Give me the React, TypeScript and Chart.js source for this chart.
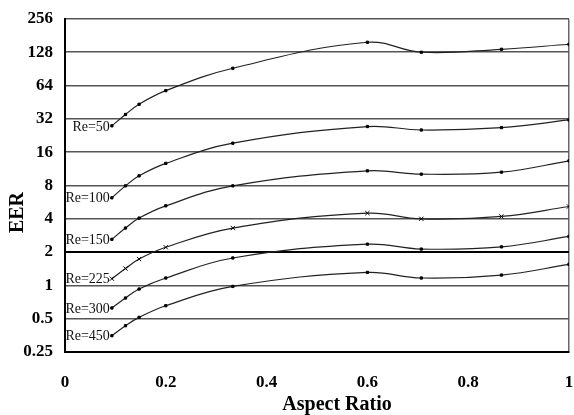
import React, { useEffect, useRef } from "react";
import { Chart, registerables } from "chart.js";

Chart.register(...registerables);

const aspectRatios = [0.093, 0.12, 0.147, 0.2, 0.333, 0.6, 0.707, 0.866, 1.0];

const re50 = [27.7, 35.1, 43.4, 57.6, 91.8, 157.7, 128.1, 136.3, 151.3];
const re100 = [6.19, 7.94, 9.78, 12.68, 19.3, 27.3, 25.4, 26.7, 31.3];
const re150 = [2.61, 3.3, 4.06, 5.24, 7.94, 10.85, 10.13, 10.56, 13.36];
const re225 = [1.15, 1.42, 1.73, 2.21, 3.3, 4.5, 4.0, 4.2, 5.17];
const re300 = [0.625, 0.769, 0.927, 1.166, 1.77, 2.36, 2.13, 2.23, 2.77];
const re450 = [0.351, 0.432, 0.514, 0.655, 0.979, 1.31, 1.166, 1.24, 1.55];

const seriesNames = ["Re=50", "Re=100", "Re=150", "Re=225", "Re=300", "Re=450"];
const seriesValues = [re50, re100, re150, re225, re300, re450];
const seriesMarkers = ["rect", "rect", "rect", "crossRot", "rect", "rect"];

const yTicks = [0.25, 0.5, 1, 2, 4, 8, 16, 32, 64, 128, 256];
const yTickLabels = ["0.25", "0.5", "1", "2", "4", "8", "16", "32", "64", "128", "256"];
const xTicks = [0, 0.2, 0.4, 0.6, 0.8, 1];
const xTickLabels = ["0", "0.2", "0.4", "0.6", "0.8", "1"];

const xTitle = "Aspect Ratio";
const yTitle = "EER";

const SERIF = "'Liberation Serif', 'Times New Roman', serif";

const labelsPlugin = {
  id: "reLabels",
  afterDatasetsDraw(chart: any) {
    const ctx = chart.ctx;
    ctx.save();
    ctx.font = `14px ${SERIF}`;
    ctx.fillStyle = "#111";
    ctx.textAlign = "right";
    ctx.textBaseline = "middle";
    chart.data.datasets.forEach((ds: any, i: number) => {
      const meta = chart.getDatasetMeta(i);
      const p = meta.data[0];
      if (!p) return;
      ctx.fillText(ds.label, p.x - 2, p.y + 1);
    });
    ctx.restore();
  },
};

const titlesPlugin = {
  id: "axisTitles",
  afterDraw(chart: any) {
    const ctx = chart.ctx;
    const a = chart.chartArea;
    ctx.save();
    ctx.fillStyle = "#000";
    ctx.font = `bold 20px ${SERIF}`;
    ctx.textAlign = "center";
    ctx.textBaseline = "middle";
    ctx.fillText(xTitle, (a.left + a.right) / 2 + 20, a.bottom + 53);
    ctx.translate(18, (a.top + a.bottom) / 2 + 27);
    ctx.rotate(-Math.PI / 2);
    ctx.fillText(yTitle, 0, 0);
    ctx.restore();
  },
};

export default function App() {
  const canvasRef = useRef<HTMLCanvasElement | null>(null);

  useEffect(() => {
    if (!canvasRef.current) return;
    const datasets = seriesNames.map((name, i) => ({
      label: name,
      data: aspectRatios.map((x, j) => ({ x, y: seriesValues[i][j] })),
      borderColor: "#222",
      backgroundColor: "#000",
      borderWidth: 1.2,
      pointStyle: seriesMarkers[i],
      pointRadius: seriesMarkers[i] === "crossRot" ? 3 : 1.6,
      pointBorderColor: "#000",
      pointBackgroundColor: "#000",
      pointBorderWidth: 1,
      tension: 0.4,
      fill: false,
    }));

    const chart = new Chart(canvasRef.current, {
      type: "line",
      data: { datasets },
      plugins: [labelsPlugin, titlesPlugin],
      options: {
        animation: false,
        responsive: true,
        maintainAspectRatio: false,
        layout: { padding: { top: 19, right: 1, left: 0, bottom: 0 } },
        plugins: {
          legend: { display: false },
          tooltip: { enabled: false },
        },
        scales: {
          x: {
            type: "linear",
            min: 0,
            max: 1,
            afterBuildTicks: (scale: any) => {
              scale.ticks = xTicks.map((v) => ({ value: v }));
            },
            afterFit: (scale: any) => {
              scale.height = 63;
              scale.paddingLeft = 0;
              scale.paddingRight = 0;
            },
            ticks: {
              padding: 20,
              color: "#000",
              font: { family: SERIF, size: 17, weight: "bold" },
              callback: (v: any) => {
                const i = xTicks.indexOf(Number(v));
                return i >= 0 ? xTickLabels[i] : "";
              },
              maxRotation: 0,
              autoSkip: false,
            },
            grid: {
              drawTicks: false,
              color: (c: any) => (c.tick && c.tick.value === 1 ? "#666" : "rgba(0,0,0,0)"),
              lineWidth: 1.5,
            },
            border: { display: true, color: "#000", width: 2 },
          },
          y: {
            type: "logarithmic",
            min: 0.25,
            max: 256,
            afterBuildTicks: (scale: any) => {
              scale.ticks = yTicks.map((v) => ({ value: v }));
            },
            afterFit: (scale: any) => {
              scale.width = 65;
              scale.paddingTop = 0;
              scale.paddingBottom = 0;
            },
            ticks: {
              padding: 12,
              color: "#000",
              font: { family: SERIF, size: 17, weight: "bold" },
              callback: (v: any) => {
                const i = yTicks.indexOf(Number(v));
                return i >= 0 ? yTickLabels[i] : "";
              },
              autoSkip: false,
            },
            grid: {
              drawTicks: false,
              color: (c: any) => (c.tick && c.tick.value === 2 ? "#000" : "#555"),
              lineWidth: (c: any) => (c.tick && c.tick.value === 2 ? 2 : 1.6),
            },
            border: { display: true, color: "#000", width: 2 },
          },
        },
      } as any,
    });
    return () => chart.destroy();
  }, []);

  return (
    <div style={{ position: "absolute", left: 0, top: 0, width: 574, height: 415, background: "#fff" }}>
      <canvas ref={canvasRef} />
    </div>
  );
}
